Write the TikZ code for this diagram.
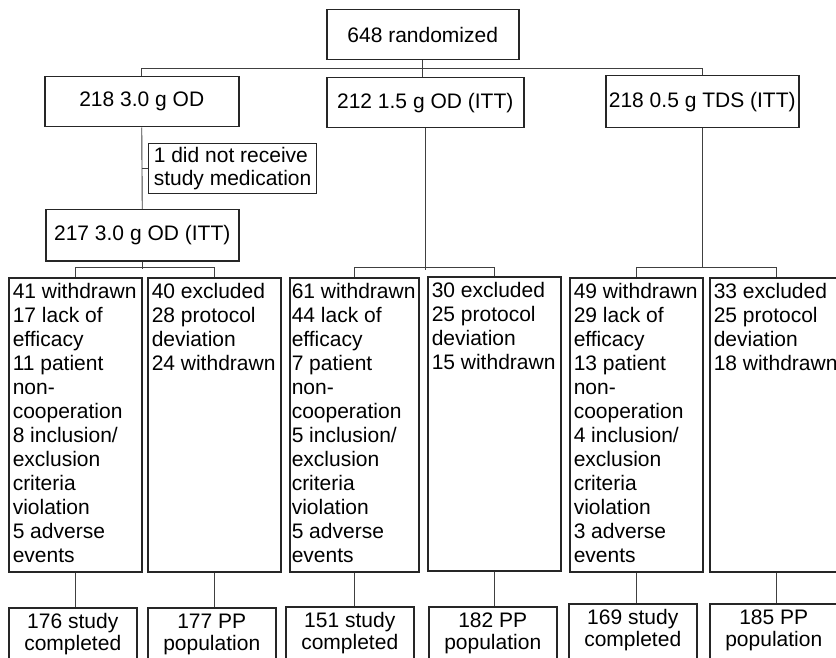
\documentclass[tikz,border=0pt]{standalone}
\usepackage{fontspec}
\setmainfont{Liberation Sans}
\usetikzlibrary{positioning}

\definecolor{boxcol}{gray}{0.15}
\definecolor{linecol}{gray}{0.25}

% text that starts at the top of a tall box
\newcommand{\coltext}[1]{\parbox[t][282pt][t]{125pt}{\raggedright #1}}
\newcommand{\finaltext}[1]{\parbox[t][54pt][t]{120pt}{\centering #1}}

\tikzset{
    box/.style={draw=boxcol, line width=1.5pt, inner sep=0pt, anchor=north west,
        font=\fontsize{21}{23}\selectfont},
    colbox/.style={box, inner xsep=4pt, inner ysep=6pt, font=\fontsize{21}{24}\selectfont},
    finalbox/.style={box, inner xsep=4pt, inner ysep=6pt, font=\fontsize{21}{22}\selectfont},
    link/.style={draw=linecol, line width=0.9pt}
}

\begin{document}
\begin{tikzpicture}[x=1pt, y=-1pt]
    \useasboundingbox (0,0) rectangle (836,658);
    % Top of the tree
    \node[box, minimum width=192, minimum height=50] (rand) at (326,9) {648 randomized};
    \node[box, minimum width=194, minimum height=50] (od30) at (44,76) {218 3.0 g OD};
    \node[box, minimum width=197, minimum height=50] (od15) at (326,77) {212 1.5 g OD (ITT)};
    \node[box, minimum width=193, minimum height=52] (tds) at (605,75) {218 0.5 g TDS (ITT)};
    \node[box, minimum width=168, minimum height=50, align=left, line width=1.2pt] (miss) at (148,143)
        {1 did not receive\\study medication};
    \node[box, minimum width=193, minimum height=51] (itt30) at (45,209) {217 3.0 g OD (ITT)};
    % Withdrawn and excluded
    \node[colbox] (w1) at (8,277) {\coltext{41 withdrawn\\17 lack of\\efficacy\\11 patient\\non-\\cooperation\\8 inclusion/\\exclusion\\criteria\\violation\\5 adverse\\events}};
    \node[colbox] (x1) at (147,277) {\coltext{40 excluded\\28 protocol\\deviation\\24 withdrawn}};
    \node[colbox, inner xsep=2pt] (w2) at (289,277) {\coltext{61 withdrawn\\44 lack of\\efficacy\\7 patient\\non-\\cooperation\\5 inclusion/\\exclusion\\criteria\\violation\\5 adverse\\events}};
    \node[colbox] (x2) at (427,276) {\coltext{30 excluded\\25 protocol\\deviation\\15 withdrawn}};
    \node[colbox] (w3) at (569,277) {\coltext{49 withdrawn\\29 lack of\\efficacy\\13 patient\\non-\\cooperation\\4 inclusion/\\exclusion\\criteria\\violation\\3 adverse\\events}};
    \node[colbox] (x3) at (709,277) {\coltext{33 excluded\\25 protocol\\deviation\\18 withdrawn}};
    % Final counts
    \node[finalbox] (c1) at (8,607) {\finaltext{176 study\\completed}};
    \node[finalbox] (p1) at (147,607) {\finaltext{177 PP\\population}};
    \node[finalbox] (c2) at (285,606) {\finaltext{151 study\\completed}};
    \node[finalbox] (p2) at (428,606) {\finaltext{182 PP\\population}};
    \node[finalbox] (c3) at (568,603) {\finaltext{169 study\\completed}};
    \node[finalbox] (p3) at (709,603) {\finaltext{185 PP\\population}};
    % Connectors
    \draw[link] (rand.south) -- (rand.south |- od15.north);
    \draw[link] (od30.north) -- ++(0,-8) -| (tds.north);
    \draw[link] (od30.south) -- (itt30.north);
    \draw[link] (od30.south |- miss.west) -- (miss.west);
    \draw[link] (itt30.south) -- ++(0,7);
    \draw[link] (w1.north) -- ++(0,-10) -| (x1.north);
    \draw[link] (od15.south) -- ++(0,141);
    \draw[link] (w2.north) -- ++(0,-10) -| (x2.north);
    \draw[link] (tds.south) -- ++(0,139);
    \draw[link] (w3.north) -- ++(0,-10) -| (x3.north);
    \foreach \a/\b in {w1/c1, x1/p1, w2/c2, x2/p2, w3/c3, x3/p3}
        \draw[link] (\a.south) -- (\a.south |- \b.north);
\end{tikzpicture}
\end{document}
